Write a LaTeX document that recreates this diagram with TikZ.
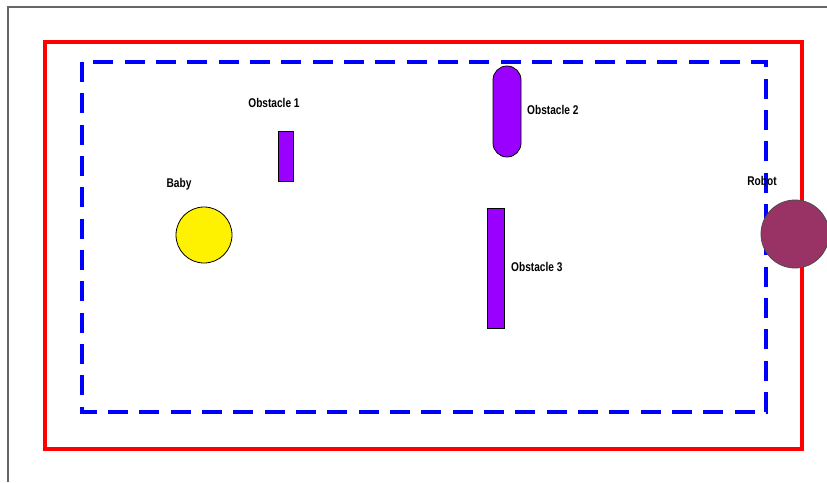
\documentclass[tikz,border=0pt]{standalone}
\usepackage{fontspec}
\setmainfont{Liberation Sans}
\usepackage{tikz}
\usetikzlibrary{calc}
\definecolor{robotcol}{HTML}{993366}
\definecolor{obstcol}{HTML}{9900FF}
\tikzset{
  lbl/.style={font=\fontsize{9.5}{10}\selectfont\bfseries, inner sep=0pt, xscale=0.8, transform shape},
  obst/.style={fill=obstcol, draw=black, line width=0.6pt}
}
\newcommand{\drawBar}[4]{
   	\draw[obst] (#1,#2) rectangle (#3,#4) ;
}

\begin{document}
\begin{tikzpicture}[x=0.75pt, y=-0.75pt]
%%%%%%%%%%%%%%%%%%
\useasboundingbox (0,0) rectangle (827,482);
\fill[white] (0,0) rectangle (827,482);

%Frame
\draw[gray!80!black, line width=0.8pt] (8,482) -- (8,7) -- (827,7);

%Walls and safe zone
\draw[red, line width=2.6pt] (45,42) rectangle (802,449);
\draw[blue, line width=2.8pt, dash pattern=on 15pt off 8.5pt] (82,62) rectangle (766,412);

% Obstacles
\drawBar{278}{131}{293}{181}
\drawBar{487}{208}{504}{328}
\draw[obst, rounded corners=10.5pt] (493,66) rectangle (521,157);

% Baby and robot
\draw[fill=yellow, line width=0.6pt] (204,235) circle (28);
\draw[fill=robotcol, line width=0.6pt, draw=black!70] (795,234) circle (34);

% Labels
\node[lbl] (obs1) at (274,103) {Obstacle 1};
\node[lbl, anchor=west] (obs2) at (527,110) {Obstacle 2};
\node[lbl, anchor=west] (obs3) at (511,267) {Obstacle 3};
\node[lbl] (baby) at (179,184) {Baby};
\node[lbl] (robot) at (762,181) {Robot};
\end{tikzpicture}
\end{document}
